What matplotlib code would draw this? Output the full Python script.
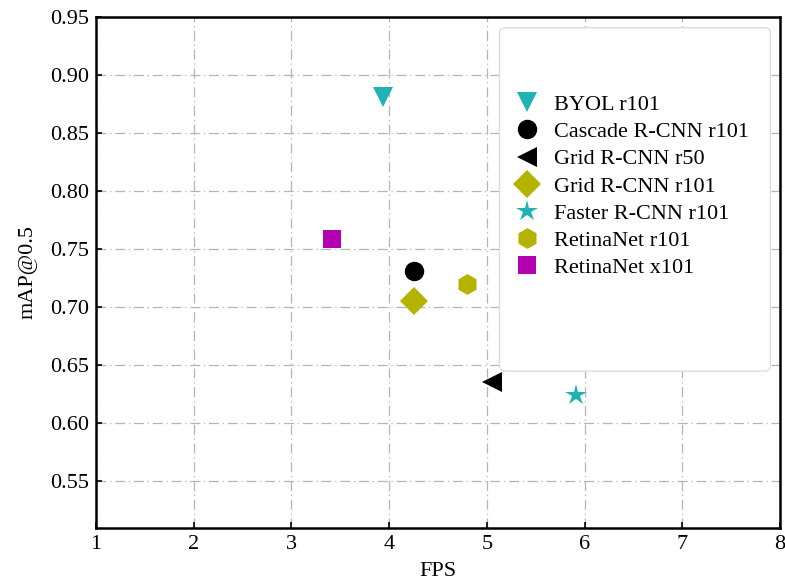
import matplotlib
matplotlib.use("Agg")
import matplotlib.pyplot as plt
from matplotlib.patches import FancyBboxPatch

plt.rcParams['font.family'] = ['Liberation Serif', 'DejaVu Serif']

models = ["BYOL r101", "Cascade R-CNN r101", "Grid R-CNN r50", "Grid R-CNN r101",
          "Faster R-CNN r101", "RetinaNet r101", "RetinaNet x101"]
fps = [3.94, 4.25, 5.05, 4.25, 5.91, 4.80, 3.42]
map50 = [0.881, 0.731, 0.635, 0.705, 0.624, 0.720, 0.759]
markers = ["v", "o", "<", "D", "*", "h", "s"]
colors = ["#1fb3b3", "#000000", "#000000", "#b3b300", "#1fb3b3", "#b3b300", "#b000b0"]
sizes = [15, 14, 15, 14, 16, 15, 13]

xticks = [1, 2, 3, 4, 5, 6, 7, 8]
yticks = [0.55, 0.60, 0.65, 0.70, 0.75, 0.80, 0.85, 0.90, 0.95]

fig = plt.figure(figsize=(7.85, 5.85), dpi=100)
ax = fig.add_axes([0.1223, 0.0974, 0.8713, 0.8736])

for x, y, m, c, s, lab in zip(fps, map50, markers, colors, sizes, models):
    ax.plot([x], [y], linestyle="none", marker=m, color=c, markersize=s,
            markeredgewidth=0, label=lab, zorder=3)

ax.set_xlim(1, 8)
ax.set_ylim(0.5095, 0.95)
ax.set_xticks(xticks)
ax.set_yticks(yticks)
ax.set_xticklabels([str(t) for t in xticks])
ax.set_yticklabels([f"{t:.2f}" for t in yticks])
ax.tick_params(direction="in", labelsize=16, length=4, width=1.2, pad=5)
for sp in ax.spines.values():
    sp.set_linewidth(1.8)

ax.grid(True, color="#b5b5b5", linestyle=(0, (8, 3, 1, 3)), linewidth=0.9)
ax.set_axisbelow(True)

ax.set_xlabel("FPS", fontsize=16, labelpad=6)
ax.set_ylabel("mAP@0.5", fontsize=16, labelpad=9)

# legend frame
frame = FancyBboxPatch((0.590, 0.307), 0.396, 0.672, transform=ax.transAxes,
                       boxstyle="round,pad=0,rounding_size=0.01",
                       facecolor="white", edgecolor="#dddddd", linewidth=1.0, zorder=4)
ax.add_patch(frame)
leg = ax.legend(loc="upper left", bbox_to_anchor=(0.596, 0.866), frameon=False,
                fontsize=16, labelspacing=0.3, handletextpad=0.55, borderaxespad=0,
                handlelength=1.3, numpoints=1)
leg.set_zorder(5)

fig.savefig("out.png", dpi=100)
